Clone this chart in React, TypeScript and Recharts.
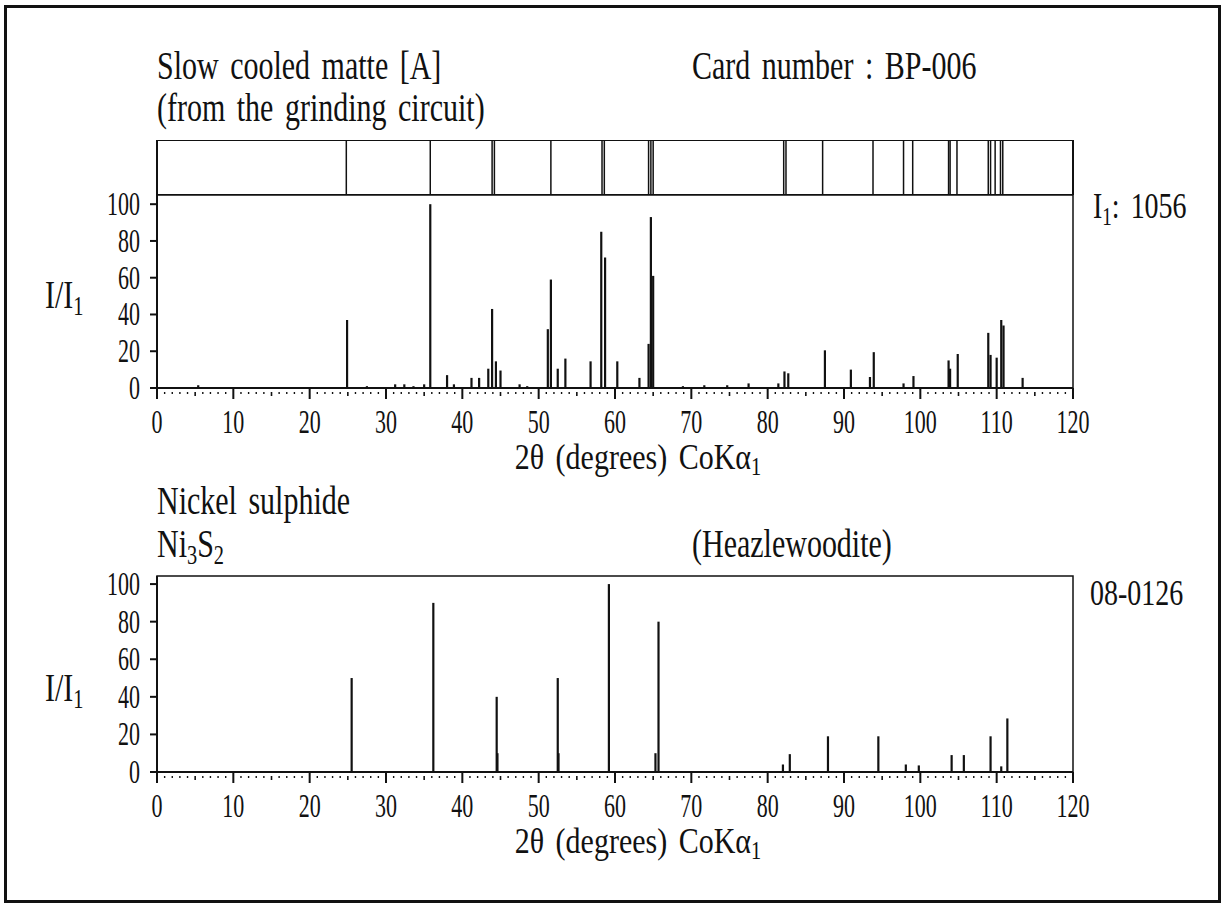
import { ComposedChart, Scatter, XAxis, YAxis, ReferenceArea } from "recharts";

// measured sample: slow cooled matte [A]
const matteAngles = [
  5.4, 27.5, 31.2, 32.4, 33.6, 35.0, 24.9, 35.8, 38.0, 38.9, 41.2, 42.2, 43.4, 43.9, 44.4, 45.0,
  47.5, 48.5, 51.2, 51.6, 52.5, 53.5, 56.8, 58.2, 58.7, 60.3, 63.2, 64.4, 64.7, 65.0, 68.9, 71.7,
  74.7, 77.5, 81.4, 82.2, 82.7, 87.5, 90.9, 93.4, 93.9, 97.8, 99.1, 103.7, 103.9, 104.9, 108.9,
  109.2, 110.0, 110.6, 110.9, 113.4,
];
const matteIntensity = [
  1.5, 1, 2, 2, 1, 2, 37, 100, 7, 2, 5.5, 5.5, 10.5, 43, 14.5, 9.5,
  2, 1, 32, 59, 10.5, 16, 14.5, 85, 71, 14.5, 5.5, 24, 93, 61, 1, 1.5,
  1.5, 2.5, 2.5, 9, 8, 20.5, 10, 6, 19.5, 2.5, 6.5, 15, 10.5, 18.5, 30,
  18, 16.5, 37, 34, 5.5,
];

// reference lines shown in the strip above the pattern
const stripAngles = [
  24.8, 35.8, 43.9, 44.2, 51.6, 58.3, 58.6, 64.4, 64.7, 65.0, 82.1, 82.4, 87.2, 93.8, 97.8, 99.0,
  103.7, 103.9, 104.8, 108.9, 109.2, 109.8, 110.5, 110.8,
];

// card 08-0126 Ni3S2
const cardAngles = [
  25.5, 36.2, 44.5, 44.6, 52.5, 52.6, 59.2, 65.3, 65.7, 82.0, 82.9, 87.9, 94.5, 98.1, 99.8,
  104.1, 105.7, 109.2, 110.6, 111.4,
];
const cardIntensity = [
  50, 90, 40, 10, 50, 10, 100, 10, 80, 4, 9.5, 19, 19, 4, 3.5, 9, 9, 19, 3, 28.5,
];

const xTicks = Array.from({ length: 121 }, (_, i) => i);
const yTicks = [0, 20, 40, 60, 80, 100];

const matteData = matteAngles.map((x, i) => ({ x, y: matteIntensity[i] }));
const cardData = cardAngles.map((x, i) => ({ x, y: cardIntensity[i] }));
const stripData = stripAngles.map((x) => ({ x, y: 1 }));

const FONT = "'Liberation Serif', 'DejaVu Serif', serif";
const INK = "#111";
const TOP_PAD = 12;

const XTick = (props: any) => {
  const { x, y, payload } = props;
  const v = payload.value;
  if (v % 10 === 0) {
    return (
      <g>
        <line x1={x} x2={x} y1={y} y2={y + 11} stroke={INK} strokeWidth={2} />
        <text
          transform={`translate(${x},${y + 45}) scale(1,1.55)`}
          textAnchor="middle"
          fontSize={22}
          fontFamily={FONT}
          fill={INK}
        >
          {v}
        </text>
      </g>
    );
  }
  const mid = v % 5 === 0;
  return <line x1={x} x2={x} y1={y + 4} y2={y + (mid ? 8 : 6)} stroke={INK} strokeWidth={mid ? 1.6 : 1.4} />;
};

const YTick = (props: any) => {
  const { x, y, payload } = props;
  return (
    <text
      transform={`translate(${x},${y + 11}) scale(1,1.55)`}
      textAnchor="end"
      fontSize={22}
      fontFamily={FONT}
      fill={INK}
    >
      {payload.value}
    </text>
  );
};

const stick = (base: number, w: number) => (p: any) =>
  <line x1={p.cx} x2={p.cx} y1={p.cy} y2={base} stroke={INK} strokeWidth={w} />;

interface PatternProps {
  data: { x: number; y: number }[];
  plotHeight: number;
  yMax: number;
}

const Pattern = ({ data, plotHeight, yMax }: PatternProps) => (
  <ComposedChart
    width={1225}
    height={TOP_PAD + plotHeight + 80}
    margin={{ top: TOP_PAD, right: 152, bottom: 0, left: 97 }}
  >
    <XAxis
      type="number"
      dataKey="x"
      domain={[0, 120]}
      ticks={xTicks}
      interval={0}
      tickSize={0}
      tickMargin={0}
      tickLine={false}
      tick={<XTick />}
      height={80}
      axisLine={{ stroke: INK, strokeWidth: 2 }}
      allowDataOverflow
    />
    <YAxis
      type="number"
      dataKey="y"
      domain={[0, yMax]}
      ticks={yTicks}
      interval={0}
      width={60}
      tickSize={7}
      tickMargin={10}
      tickLine={{ stroke: INK, strokeWidth: 2 }}
      axisLine={{ stroke: INK, strokeWidth: 2 }}
      tick={<YTick />}
      allowDataOverflow
    />
    <ReferenceArea x1={0} x2={120} y1={0} y2={yMax} fill="none" stroke={INK} strokeWidth={1.5} ifOverflow="visible" />
    <Scatter data={data} shape={stick(TOP_PAD + plotHeight, 2.2)} isAnimationActive={false} />
  </ComposedChart>
);

const T = ({ x, y, size = 30, sy = 1.3, anchor = "start", children }: any) => (
  <text
    transform={`translate(${x},${y}) scale(1,${sy})`}
    fontSize={size}
    fontFamily={FONT}
    fill={INK}
    textAnchor={anchor}
    style={{ wordSpacing: 4 }}
  >
    {children}
  </text>
);

const Sub = ({ children }: any) => (
  <tspan fontSize="68%" dy={5}>
    {children}
  </tspan>
);

export default function App() {
  return (
    <div style={{ position: "absolute", left: 0, top: 0, width: 1225, height: 909, background: "#fff" }}>
      <div
        style={{
          position: "absolute",
          left: 4,
          top: 5,
          width: 1211,
          height: 892,
          border: `3px solid ${INK}`,
        }}
      />

      {/* line strip */}
      <div style={{ position: "absolute", left: 0, top: 140 }}>
        <ComposedChart width={1225} height={55} margin={{ top: 0, right: 152, bottom: 0, left: 157 }}>
          <XAxis type="number" dataKey="x" domain={[0, 120]} hide />
          <YAxis type="number" dataKey="y" domain={[0, 1]} hide />
          <ReferenceArea x1={0} x2={120} y1={0} y2={1} fill="none" stroke={INK} strokeWidth={2} ifOverflow="visible" />
          <Scatter data={stripData} shape={stick(55, 1.5)} isAnimationActive={false} />
        </ComposedChart>
      </div>

      <div style={{ position: "absolute", left: 0, top: 195 - TOP_PAD }}>
        <Pattern data={matteData} plotHeight={193} yMax={105} />
      </div>

      <div style={{ position: "absolute", left: 0, top: 576 - TOP_PAD }}>
        <Pattern data={cardData} plotHeight={196} yMax={104.3} />
      </div>

      <svg width={1225} height={909} style={{ position: "absolute", left: 0, top: 0, pointerEvents: "none" }}>
        <T x={157} y={79}>Slow cooled matte [A]</T>
        <T x={157} y={121}>(from the grinding circuit)</T>
        <T x={692} y={79}>Card number : BP-006</T>
        <T x={1093} y={218} size={28}>
          I<Sub>1</Sub>
          <tspan dy={-5}>: 1056</tspan>
        </T>
        <T x={45} y={308}>
          I/I<Sub>1</Sub>
        </T>
        <T x={638} y={469} sy={1.2} anchor="middle">
          2θ (degrees) CoKα<Sub>1</Sub>
        </T>

        <T x={157} y={514}>Nickel sulphide</T>
        <T x={157} y={557}>
          Ni<Sub>3</Sub>
          <tspan dy={-5}>S</tspan>
          <Sub>2</Sub>
        </T>
        <T x={692} y={557}>(Heazlewoodite)</T>
        <T x={1090} y={605} size={28}>08-0126</T>
        <T x={45} y={701}>
          I/I<Sub>1</Sub>
        </T>
        <T x={638} y={853} sy={1.2} anchor="middle">
          2θ (degrees) CoKα<Sub>1</Sub>
        </T>
      </svg>
    </div>
  );
}
